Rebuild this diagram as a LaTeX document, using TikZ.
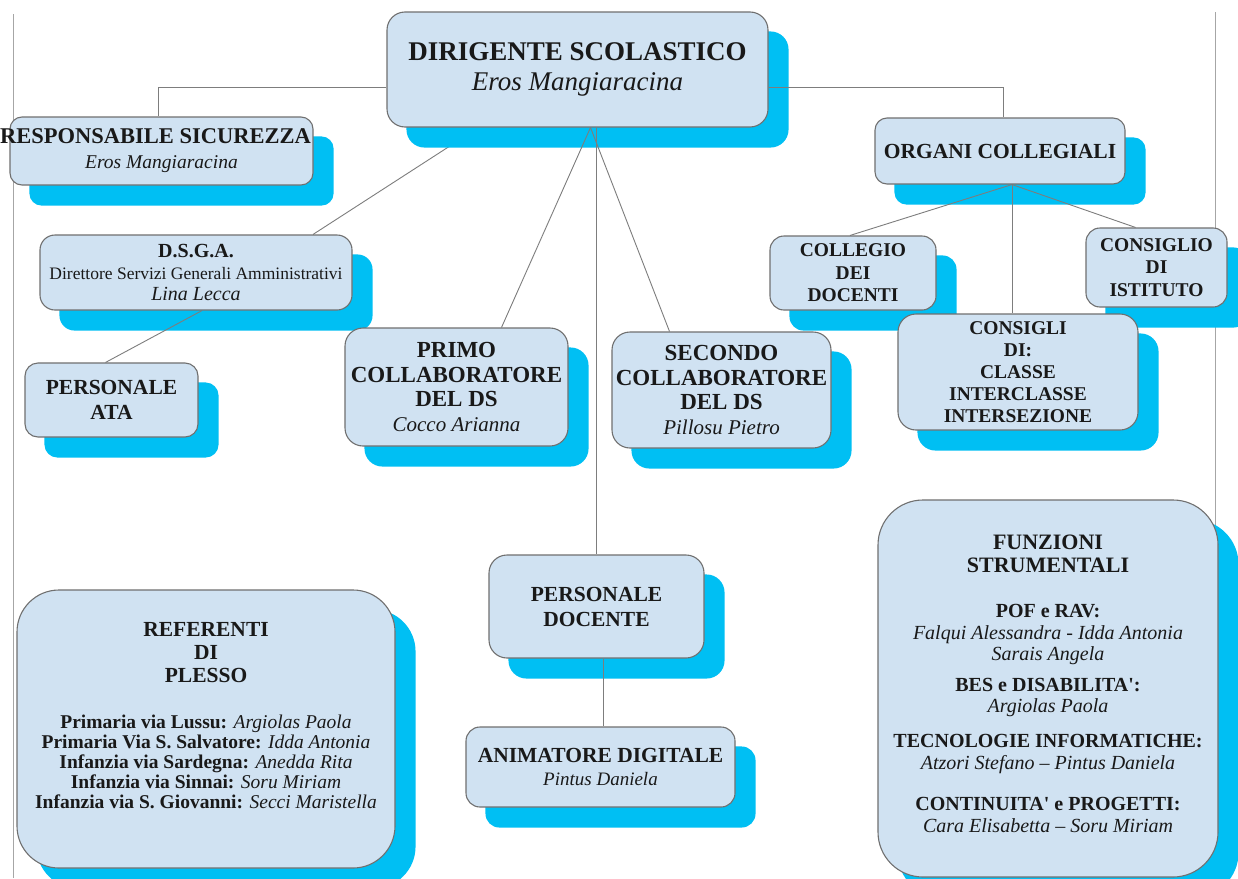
\documentclass[tikz,border=0pt]{standalone}
\usepackage{fontspec}
\setmainfont{Liberation Serif}
\usetikzlibrary{calc}
\pgfdeclarelayer{bg}
\pgfdeclarelayer{shad}
\pgfdeclarelayer{conn}
\pgfsetlayers{bg,shad,conn,main}
\definecolor{boxfill}{RGB}{208,226,242}
\definecolor{shadowc}{RGB}{0,191,243}
\definecolor{edgec}{RGB}{112,112,112}
\definecolor{connc}{RGB}{125,125,125}
\definecolor{ink}{RGB}{25,25,25}
\newcommand\fs[2]{\fontsize{#1}{#2}\selectfont}
\newcommand\shadowfor[2]{\fill[shadowc, rounded corners=#2] ($(#1.south west)+(20,20)$) rectangle ($(#1.north east)+(20,20)$);}
\tikzset{
  card/.style={draw=edgec, line width=1.1pt, fill=boxfill, inner sep=0pt, align=center, text=ink},
  cardtext/.style={inner sep=0pt, align=center, text=ink},
  link/.style={draw=connc, line width=0.9pt},
  pageline/.style={draw=black!35, line width=0.9pt},
}
\begin{document}
\begin{tikzpicture}[x=1pt,y=-1pt]
\useasboundingbox (0,0) rectangle (1238,878);

% nodes
\node[card, rounded corners=18pt, minimum width=381pt, minimum height=115pt, font=\fs{27}{30}] (dir) at (577.5,69.5)
  {{\bfseries DIRIGENTE SCOLASTICO}\\{\itshape Eros Mangiaracina}};
\node[card, rounded corners=12pt, minimum width=303pt, minimum height=68pt, font=\fs{22.5}{25}] (resp) at (161.5,151)
  {\makebox[0pt]{\bfseries RESPONSABILE SICUREZZA\hspace{12pt}}\\{\fs{19.5}{25}\itshape Eros Mangiaracina}};
\node[card, rounded corners=12pt, minimum width=250pt, minimum height=66pt, font=\fs{21.5}{24}\bfseries] (org) at (1000,151)
  {ORGANI COLLEGIALI};
\node[card, rounded corners=15pt, minimum width=312pt, minimum height=75pt, font=\fs{20}{21.5}] (dsga) at (196,272.5)
  {{\bfseries D.S.G.A.}\\{\fs{17.5}{21.5}Direttore Servizi Generali Amministrativi}\\{\itshape Lina Lecca}};
\node[card, rounded corners=13pt, minimum width=173pt, minimum height=74pt, font=\fs{21.5}{25}\bfseries] (ata) at (111.5,400)
  {PERSONALE\\ATA};
\node[card, rounded corners=18pt, minimum width=223pt, minimum height=118pt, font=\fs{23}{24.5}] (primo) at (456.5,387)
  {{\bfseries PRIMO}\\{\bfseries COLLABORATORE}\\{\bfseries DEL DS}\\{\fs{21}{24.5}\itshape Cocco Arianna}};
\node[card, rounded corners=18pt, minimum width=219pt, minimum height=116pt, font=\fs{23}{24.5}] (secondo) at (721.5,390)
  {{\bfseries SECONDO}\\{\bfseries COLLABORATORE}\\{\bfseries DEL DS}\\{\fs{21}{24.5}\itshape Pillosu Pietro}};
\node[card, rounded corners=14pt, minimum width=166pt, minimum height=74pt, font=\fs{19.5}{22.5}\bfseries] (collegio) at (853,273)
  {COLLEGIO\\DEI\\DOCENTI};
\node[card, rounded corners=14pt, minimum width=141pt, minimum height=79pt, font=\fs{19.5}{22.5}\bfseries] (istituto) at (1156.5,267.5)
  {CONSIGLIO\\DI\\ISTITUTO};
\node[card, rounded corners=18pt, minimum width=240pt, minimum height=116pt, font=\fs{19.5}{22}\bfseries] (consigli) at (1018,372)
  {CONSIGLI\\DI:\\CLASSE\\INTERCLASSE\\INTERSEZIONE};
\node[card, rounded corners=18pt, minimum width=215pt, minimum height=103pt, font=\fs{21.5}{25}\bfseries] (pd) at (596.5,606.5)
  {PERSONALE\\DOCENTE};
\node[card, rounded corners=14pt, minimum width=269pt, minimum height=80pt, font=\fs{21.5}{23}] (ad) at (600.5,767)
  {{\bfseries ANIMATORE DIGITALE}\\{\fs{19}{23}\itshape Pintus Daniela}};
\node[card, rounded corners=42pt, minimum width=378pt, minimum height=278pt] (ref) at (206,729) {};
\node[cardtext, font=\fs{19.5}{20}] (reftext) at (206,716)
  {{\fs{21.5}{23}\bfseries REFERENTI}\\[3pt]{\fs{21.5}{23}\bfseries DI}\\[3pt]{\fs{21.5}{23}\bfseries PLESSO}\\[26pt]
   {\bfseries Primaria via Lussu:} {\itshape Argiolas Paola}\\
   {\bfseries Primaria Via S. Salvatore:} {\itshape Idda Antonia}\\
   {\bfseries Infanzia via Sardegna:} {\itshape Anedda Rita}\\
   {\bfseries Infanzia via Sinnai:} {\itshape Soru Miriam}\\
   {\bfseries Infanzia via S. Giovanni:} {\itshape Secci Maristella}};
\node[card, rounded corners=45pt, minimum width=340pt, minimum height=377pt] (fun) at (1048,688.5) {};
\node[cardtext, font=\fs{20}{21.5}] (funtext) at (1048,684)
  {{\fs{22}{23}\bfseries FUNZIONI}\\[1.5pt]{\fs{22}{23}\bfseries STRUMENTALI}\\[23pt]
   {\bfseries POF e RAV:}\\[0.5pt]{\itshape Falqui Alessandra - Idda Antonia}\\{\itshape Sarais Angela}\\[9pt]
   {\bfseries BES e DISABILITA\textquotesingle:}\\{\itshape Argiolas Paola}\\[13pt]
   {\bfseries TECNOLOGIE INFORMATICHE:}\\[0.5pt]{\itshape Atzori Stefano – Pintus Daniela}\\[20pt]
   {\bfseries CONTINUITA\textquotesingle{} e PROGETTI:}\\[0.5pt]{\itshape Cara Elisabetta – Soru Miriam}};

% page lines
\begin{pgfonlayer}{bg}
  \fill[white] (0,0) rectangle (1238,878);
  \coordinate (pl1) at (13,14);
  \coordinate (pl2) at (13,878);
  \coordinate (pr1) at (1215,12);
  \coordinate (pr2) at (1215,878);
  \draw[pageline] (pl1) -- (pl2);
  \draw[pageline] (pr1) -- (pr2);
  \draw[link] ($(dir.south)+(-99,0)$) -- ($(dsga.north)+(117,0)$);
\end{pgfonlayer}

% shadows
\begin{pgfonlayer}{shad}
  \shadowfor{dir}{18pt}
  \shadowfor{resp}{12pt}
  \shadowfor{org}{12pt}
  \shadowfor{dsga}{15pt}
  \shadowfor{ata}{13pt}
  \shadowfor{primo}{18pt}
  \shadowfor{secondo}{18pt}
  \shadowfor{collegio}{14pt}
  \shadowfor{istituto}{14pt}
  \shadowfor{consigli}{18pt}
  \shadowfor{pd}{18pt}
  \shadowfor{ad}{14pt}
  \shadowfor{ref}{42pt}
  \shadowfor{fun}{45pt}
\end{pgfonlayer}

% connectors
\begin{pgfonlayer}{conn}
  \draw[link] ($(dir.west)+(0,17.5)$) -| ($(resp.north)+(-3.5,0)$);
  \draw[link] ($(dir.east)+(0,17.5)$) -| ($(org.north)+(3,0)$);
  \draw[link] ($(dir.south)+(13,0)$) -- ($(primo.north)+(45,0)$);
  \draw[link] ($(dir.south)+(13,0)$) -- ($(secondo.north)+(-52,0)$);
  \draw[link] (dir.south -| pd.north) -- (pd.north);
  \draw[link] ($(dsga.south)+(6,0)$) -- ($(ata.north)+(-6,0)$);
  \draw[link] ($(org.south)+(12,0)$) -- ($(collegio.north)+(-3,0)$);
  \draw[link] ($(org.south)+(12,0)$) -- ($(consigli.north)+(-6,0)$);
  \draw[link] ($(org.south)+(12,0)$) -- ($(istituto.north)+(-21,0)$);
  \draw[link] ($(pd.west)+(0,-1.5)$) -- ($(pd.west)+(0,-1.5)$ -| ref.east);
  \draw[link] ($(pd.east)+(0,2.5)$) -- ($(pd.east)+(0,2.5)$ -| fun.west);
  \draw[link] ($(pd.south)+(6.5,0)$) -- ($(ad.north)+(2.5,0)$);
\end{pgfonlayer}
\end{tikzpicture}
\end{document}
